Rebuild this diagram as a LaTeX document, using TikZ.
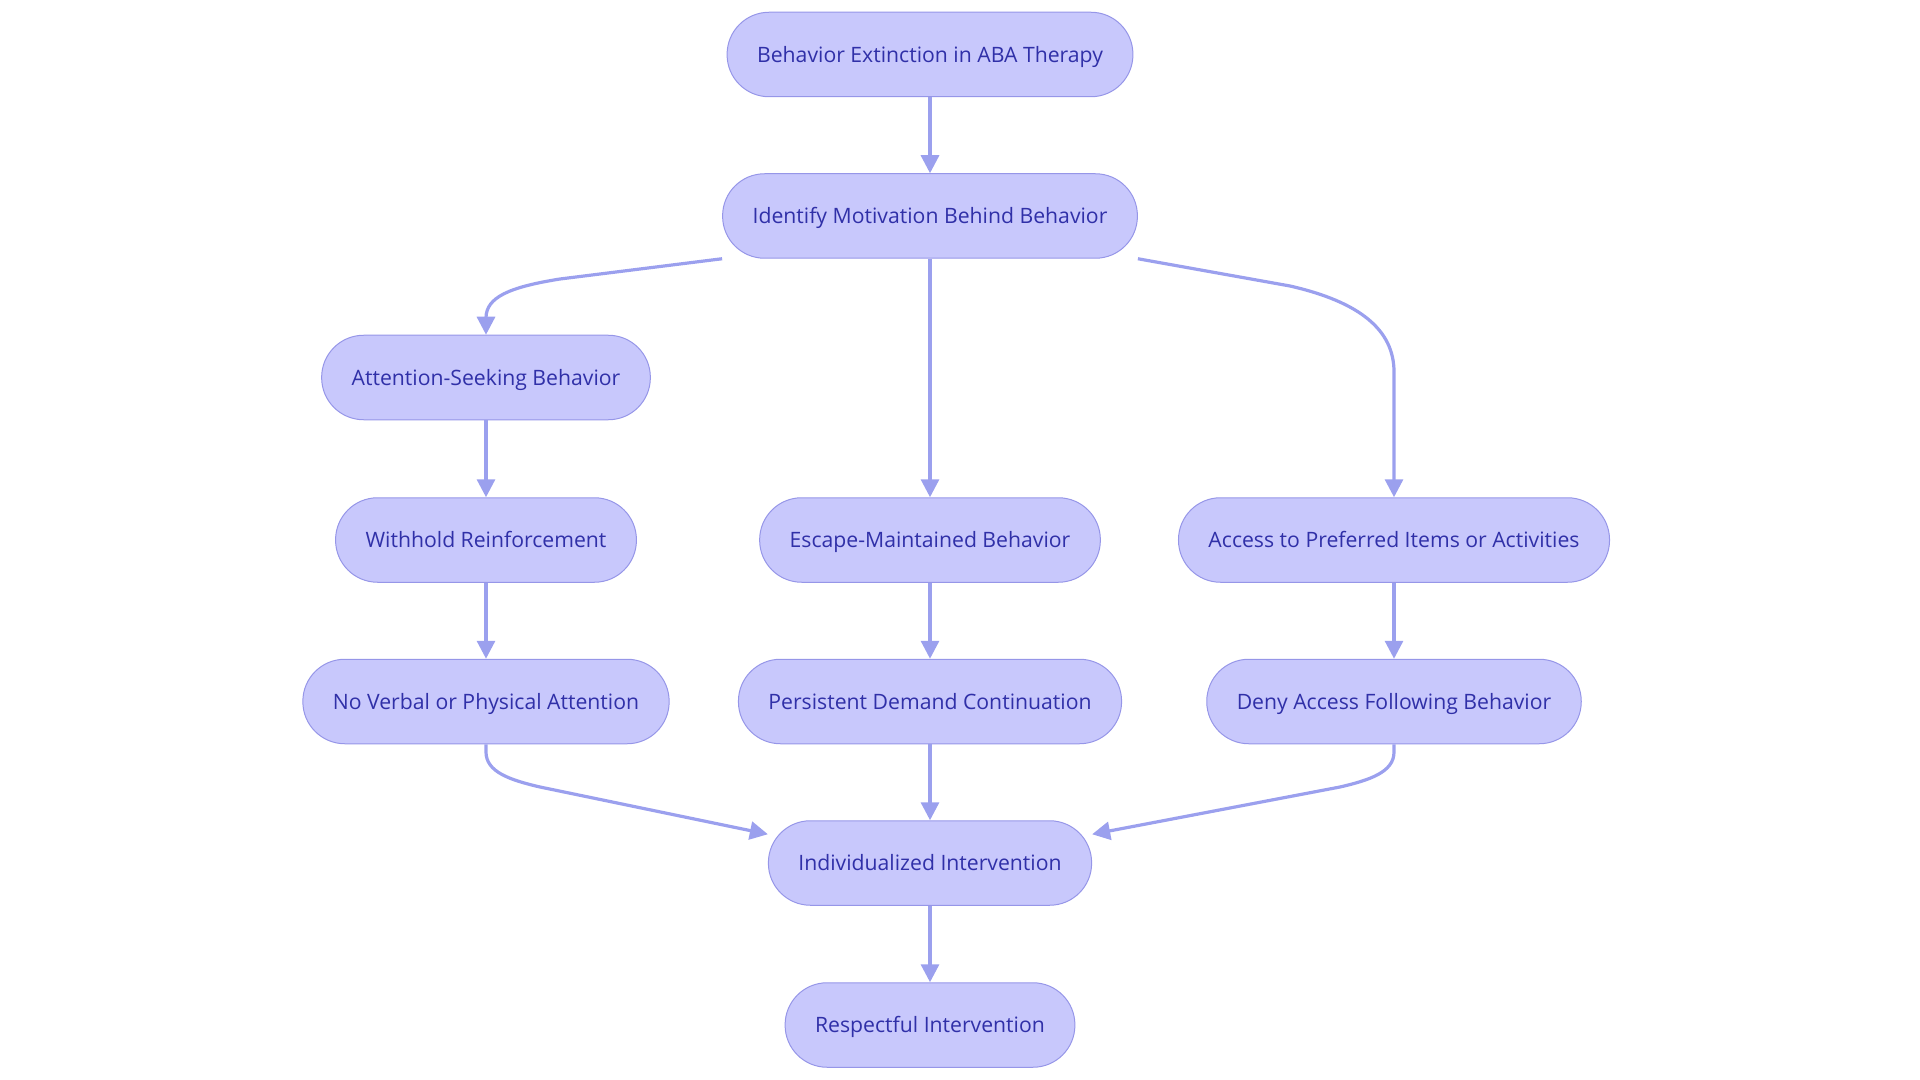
\documentclass[tikz,border=0pt]{standalone}
\usepackage{fontspec}
\setmainfont{Open Sans}
\usetikzlibrary{arrows.meta,calc}

\definecolor{fuellung}{RGB}{200,200,252}
\definecolor{rand}{RGB}{150,150,232}
\definecolor{linie}{RGB}{155,160,238}
\definecolor{schrift}{RGB}{48,48,168}

\begin{document}
\begin{tikzpicture}[x=0.5pt,y=-0.5pt,
	kasten/.style={draw=rand,line width=0.5pt,fill=fuellung,text=schrift,
		rounded corners=21pt,minimum height=42.25pt,inner xsep=15pt,
		text height=9.6pt,text depth=2pt,
		font=\fontsize{10.6}{13}\selectfont},
	pfeil/.style={draw=linie,line width=1.6pt,-{Triangle[length=9pt,width=9pt]}}]

\useasboundingbox (0,0) rectangle (1920,1080);

\node[kasten] (start)   at (930,54.5)   {Behavior Extinction in ABA Therapy};
\node[kasten] (motiv)   at (930,216)    {Identify Motivation Behind Behavior};
\node[kasten] (aufmerk) at (486,377.5)  {Attention-Seeking Behavior};
\node[kasten] (vorent)  at (486,540)    {Withhold Reinforcement};
\node[kasten] (flucht)  at (930,540)    {Escape-Maintained Behavior};
\node[kasten] (zugang)  at (1394,540)   {Access to Preferred Items or Activities};
\node[kasten] (keine)   at (486,701.5)  {No Verbal or Physical Attention};
\node[kasten] (fort)    at (930,701.5)  {Persistent Demand Continuation};
\node[kasten] (verwehr) at (1394,701.5) {Deny Access Following Behavior};
\node[kasten] (indiv)   at (930,863)    {Individualized Intervention};
\node[kasten] (respekt) at (930,1025)   {Respectful Intervention};

\draw[pfeil] (start) -- (motiv);
\draw[pfeil] (motiv.south west) -- (560,279)
	.. controls (510,287) and (486,297) .. (486,318) -- (aufmerk.north);
\draw[pfeil] (motiv) -- (flucht);
\draw[pfeil] (motiv.south east) -- (1290,286)
	.. controls (1360,302) and (1394,330) .. (1394,372) -- (zugang.north);
\draw[pfeil] (aufmerk) -- (vorent);
\draw[pfeil] (vorent) -- (keine);
\draw[pfeil] (flucht) -- (fort);
\draw[pfeil] (zugang) -- (verwehr);
\draw[pfeil] (keine.south) -- (486,752)
	.. controls (486,772) and (510,780) .. (540,787)
	-- ($(indiv.north west)+(0,14)$);
\draw[pfeil] (fort) -- (indiv);
\draw[pfeil] (verwehr.south) -- (1394,752)
	.. controls (1394,772) and (1370,780) .. (1340,787)
	-- ($(indiv.north east)+(0,14)$);
\draw[pfeil] (indiv) -- (respekt);

\end{tikzpicture}
\end{document}
